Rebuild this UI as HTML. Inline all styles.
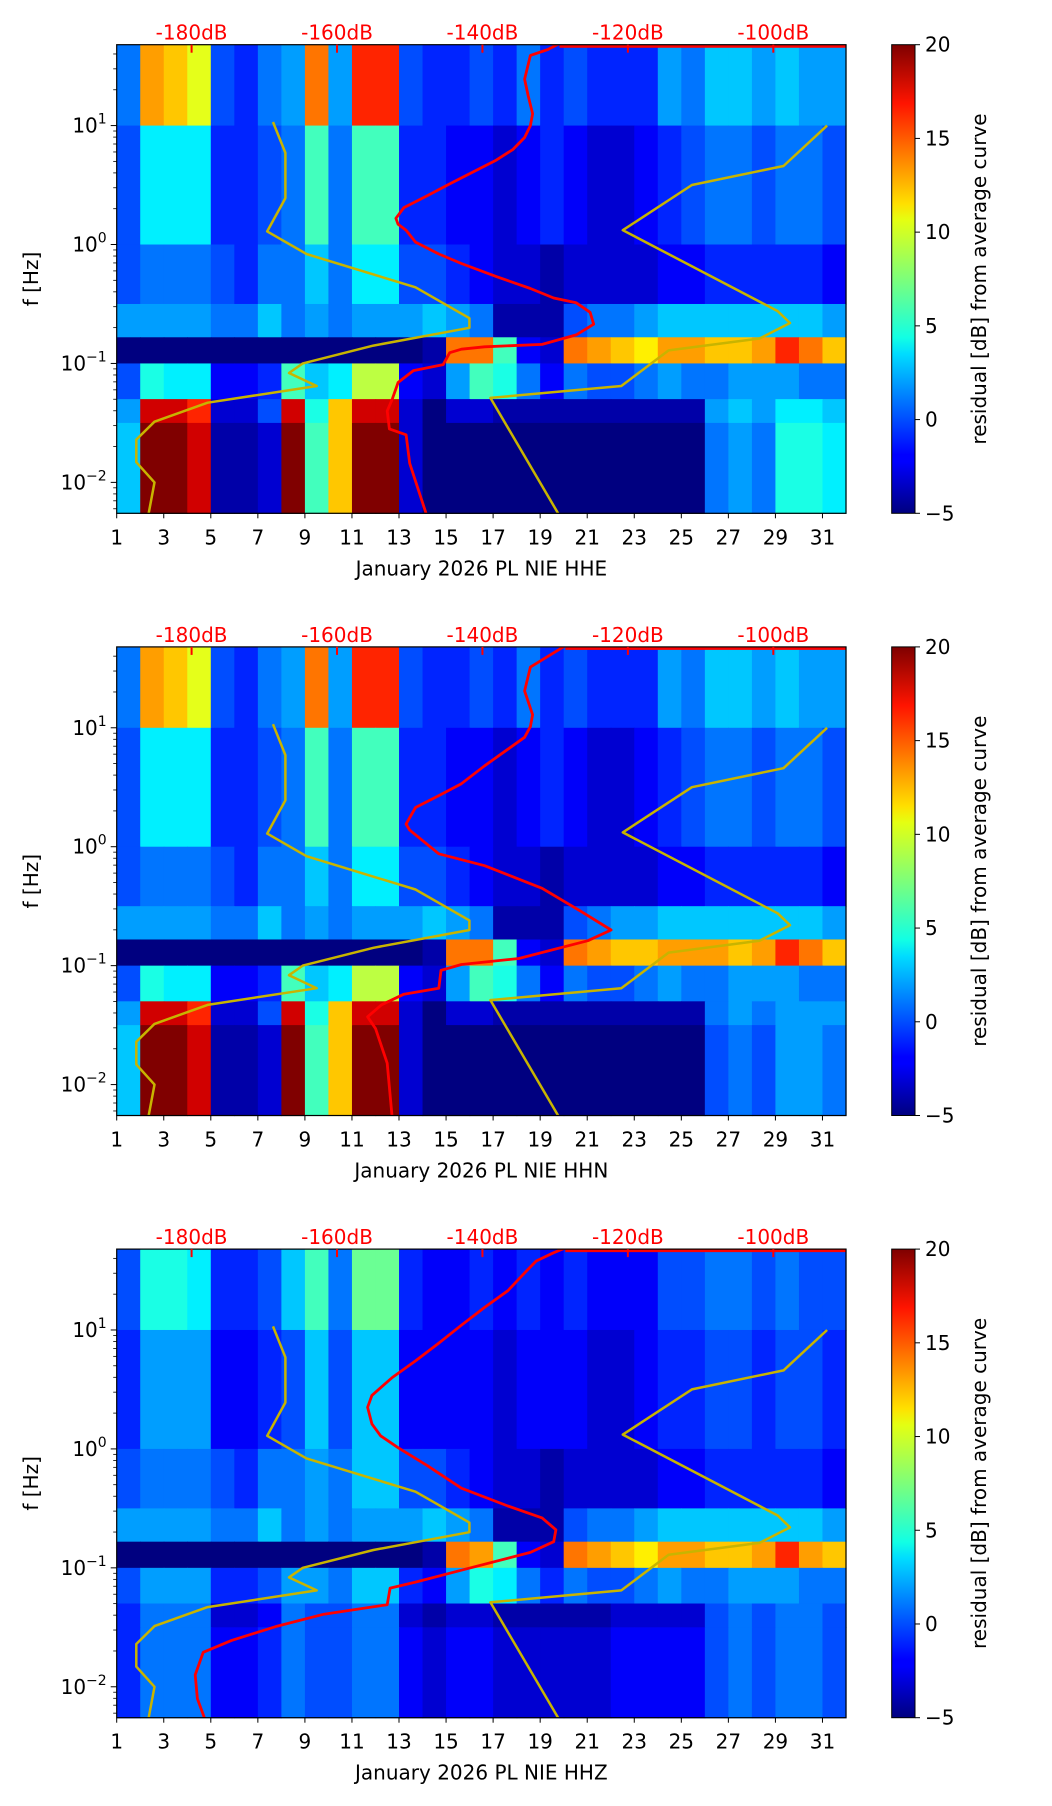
<!DOCTYPE html>
<html><head><meta charset="utf-8"><title>Residual spectrogram PL NIE</title>
<style>
html,body{margin:0;padding:0;background:#fff;}
svg{display:block;font-family:"DejaVu Sans","Liberation Sans",sans-serif;}
</style></head>
<body>
<svg id="fig" width="1052" height="1806" viewBox="0 0 1052 1806" xmlns="http://www.w3.org/2000/svg">
<defs>
<linearGradient id="jetgrad" x1="0" y1="1" x2="0" y2="0">
<stop offset="0" stop-color="#00007f"/><stop offset="0.11" stop-color="#0000ff"/>
<stop offset="0.125" stop-color="#0000ff"/><stop offset="0.34" stop-color="#00dcff"/>
<stop offset="0.375" stop-color="#12ffe4"/><stop offset="0.5" stop-color="#7dff7a"/>
<stop offset="0.625" stop-color="#e4ff12"/><stop offset="0.66" stop-color="#ffe000"/>
<stop offset="0.875" stop-color="#ff1400"/><stop offset="1" stop-color="#7f0000"/>
</linearGradient>
</defs>
</svg>
<script>
// ---------- data ----------
const days = Array.from({length:31},(_,i)=>i+1);
const bandTopLog = [1.68, 1.0, 0.0, -0.5, -0.78, -1.0, -1.3, -1.5];
const bandBotLog = [1.0, 0.0, -0.5, -0.78, -1.0, -1.3, -1.5, -2.26];
// HHE
const hheB0 = [1,13,12,10,0,-1,1,2,14,2,16,16,0,-1,-1,0,-1,1,-1,0,-1,-1,-1,2,1,3,3,2,3,2,2];
const hheB1 = [0,4,4,4,-1,-1,0,1,6,1,6,6,-1,-1,-2,-2,-3,-2,-1,-2,-3,-3,-2,-1,0,1,1,0,1,1,0];
const hheB2 = [0,1,1,1,0,-1,1,1,3,1,4,4,0,0,-1,-2,-3,-3,-4,-3,-3,-3,-3,-2,-2,-1,-1,-1,-1,-1,-2];
const hheB3 = [2,2,2,2,1,1,3,1,2,1,2,2,2,3,2,1,-4,-4,-4,0,1,1,2,3,3,3,3,3,3,3,2];
const hheB4 = [-5,-5,-5,-5,-5,-5,-5,-5,-5,-5,-5,-5,-5,-4,14,14,6,-2,-3,14,13,12,11,13,13,12,12,13,16,14,12];
const hheB5 = [0,5,4,4,-2,-2,-1,6,3,4,9,9,-2,-3,2,6,5,1,-2,1,0,0,1,2,1,1,2,2,2,1,1];
const hheB6 = [2,18,18,16,-3,-3,0,18,5,12,18,18,-3,-5,-3,-3,-4,-4,-4,-4,-4,-4,-4,-4,-4,2,3,2,4,4,3];
const hheB7 = [3,20,20,18,-4,-4,-3,20,6,12,20,20,-3,-5,-5,-5,-5,-5,-5,-5,-5,-5,-5,-5,-5,1,2,1,5,5,4];
// HHN
const hhnB0 = [1,13,12,10,0,-1,1,2,14,2,16,16,0,-1,-1,0,-1,1,-1,0,-1,-1,-1,2,1,3,3,2,3,2,2];
const hhnB1 = [0,4,4,4,-1,-1,0,1,6,1,6,6,-1,-1,-2,-2,-3,-2,-1,-2,-3,-3,-2,-1,0,1,1,0,1,1,0];
const hhnB2 = [0,1,1,1,0,-1,1,1,3,1,4,4,0,0,-1,-2,-3,-3,-4,-3,-3,-3,-3,-2,-2,-1,-1,-1,-1,-1,-2];
const hhnB3 = [2,2,2,2,1,1,3,1,2,1,2,2,2,3,2,1,-4,-4,-4,0,1,2,2,3,3,3,3,3,3,3,2];
const hhnB4 = [-5,-5,-5,-5,-5,-5,-5,-5,-5,-5,-5,-5,-5,-4,14,14,6,-2,-3,14,13,12,12,13,13,13,12,13,16,14,12];
const hhnB5 = [0,5,4,4,-2,-2,-1,6,3,4,9,9,-2,-3,2,6,5,1,-2,1,0,0,1,2,1,1,2,2,2,1,1];
const hhnB6 = [2,18,18,16,-3,-3,0,18,5,12,18,18,-3,-5,-3,-3,-4,-4,-4,-4,-4,-4,-4,-4,-4,1,2,1,2,2,2];
const hhnB7 = [3,20,20,18,-4,-4,-3,20,6,12,20,20,-3,-5,-5,-5,-5,-5,-5,-5,-5,-5,-5,-5,-5,0,1,0,2,2,1];
// HHZ
const hhzB0 = [0,5,5,4,-1,-1,0,3,6,1,7,7,-1,-2,-2,-1,-2,-1,-2,-1,-2,-2,-2,0,0,1,1,0,1,0,0];
const hhzB1 = [-1,2,2,2,-2,-2,-1,0,3,0,3,3,-2,-2,-2,-2,-3,-2,-2,-2,-3,-3,-2,-1,-1,0,0,-1,0,0,-1];
const hhzB2 = [0,1,1,1,0,-1,1,1,2,1,3,3,0,0,-1,-2,-3,-3,-4,-3,-3,-3,-3,-2,-2,-1,-1,-1,-1,-1,-2];
const hhzB3 = [2,2,2,2,1,1,3,1,2,1,2,2,2,3,2,1,-4,-4,-4,0,1,1,2,3,3,3,3,3,3,3,2];
const hhzB4 = [-5,-5,-5,-5,-5,-5,-5,-5,-5,-5,-5,-5,-5,-4,14,13,6,-2,-3,14,13,12,11,13,13,12,12,13,16,13,12];
const hhzB5 = [0,2,2,2,-1,-1,0,2,2,1,3,3,-1,-2,2,5,4,1,-1,1,0,0,1,2,1,1,2,2,2,1,1];
const hhzB6 = [-1,1,1,1,-3,-3,-2,1,0,0,1,1,-3,-4,-3,-3,-4,-4,-4,-4,-4,-3,-3,-3,-3,0,1,0,1,1,0];
const hhzB7 = [-1,1,1,1,-2,-2,-1,1,0,0,1,1,-2,-3,-2,-2,-3,-3,-3,-3,-3,-2,-2,-2,-2,0,1,0,1,1,0];

// PSD average curves (log10 f, dB)
const hheRedLogF = [-2.29,-1.84,-1.6,-1.55,-1.4,-1.3,-1.16,-1.06,-1.01,-0.91,-0.88,-0.86,-0.84,-0.76,-0.67,-0.57,-0.49,-0.45,-0.37,-0.27,-0.16,-0.08,0.02,0.12,0.17,0.22,0.31,0.41,0.51,0.61,0.71,0.8,0.9,1.0,1.1,1.25,1.39,1.59,1.64,1.69];
const hheRedDb = [-147.6,-150,-150.5,-152.8,-153.1,-152.4,-151.6,-149.5,-145.4,-144.5,-142.9,-139.7,-131.8,-127.1,-124.7,-125.2,-127.1,-130.2,-133.4,-138.1,-142.9,-146,-149.2,-150.5,-151.6,-151.9,-150.8,-147.6,-144.5,-141.3,-138.1,-135.8,-134.2,-133.4,-133.1,-133.7,-134.2,-133.4,-131,-129.4];
const hhnRedLogF = [-2.29,-1.82,-1.53,-1.43,-1.33,-1.24,-1.19,-1.04,-0.99,-0.94,-0.79,-0.7,-0.55,-0.35,-0.16,-0.06,0.14,0.19,0.33,0.43,0.53,0.68,0.82,0.92,1.01,1.11,1.31,1.51,1.63,1.69];
const hhnRedDb = [-152.4,-153.1,-154.7,-155.8,-153.9,-150.8,-146,-145.7,-142.9,-135,-125.5,-122.3,-126.3,-131.8,-139.7,-146,-150,-150.5,-149.2,-146,-142.9,-139.7,-136.5,-134.2,-133.4,-133.1,-134.2,-133.4,-130.2,-128.6];
const hhzRedLogF = [-2.3,-2.1,-1.9,-1.71,-1.61,-1.49,-1.39,-1.31,-1.17,-1.12,-1.02,-0.87,-0.78,-0.68,-0.58,-0.48,-0.33,-0.14,0.01,0.11,0.21,0.35,0.45,0.6,0.74,0.89,1.04,1.19,1.33,1.48,1.58,1.65,1.69];
const hhzRedDb = [-178,-179.2,-179.5,-178.4,-174.5,-168.2,-161.8,-153.1,-152.7,-149.2,-142.9,-133.4,-130.2,-129.9,-131.8,-136.5,-142.9,-147.6,-151.6,-154,-155.2,-155.8,-155.2,-152.4,-149.2,-146,-142.9,-139.7,-136.5,-134.2,-132.6,-130.2,-128.6];
// noise models
const nlnmLogF = [-2.29,-2.0,-1.83,-1.64,-1.49,-1.33,-1.19,-1.08,-1.0,-0.85,-0.7,-0.62,-0.36,-0.08,0.11,0.39,0.77,1.03];
const nlnmDb = [-186,-185.1,-187.6,-187.6,-185.1,-177.8,-162.8,-166.6,-164.7,-155,-141.8,-141.8,-149.2,-164.2,-169.6,-167.1,-167.1,-168.8];
const nhnmLogF = [-2.29,-1.29,-1.19,-0.89,-0.79,-0.66,-0.56,0.12,0.5,0.66,1.0];
const nhnmDb = [-129.3,-138.9,-120.9,-114.4,-101.9,-97.7,-99.4,-120.7,-111.2,-98.6,-92.6];
const xTickDays = [1,3,5,7,9,11,13,15,17,19,21,23,25,27,29,31];
const dbTicks = [-180,-160,-140,-120,-100];
const yTickExp = [1,0,-1,-2];
const cbTicks = [20,15,10,5,0,-5];

const panels = [
 {id:'hhe', comp:'HHE', bands:[hheB0,hheB1,hheB2,hheB3,hheB4,hheB5,hheB6,hheB7], rf:hheRedLogF, rd:hheRedDb},
 {id:'hhn', comp:'HHN', bands:[hhnB0,hhnB1,hhnB2,hhnB3,hhnB4,hhnB5,hhnB6,hhnB7], rf:hhnRedLogF, rd:hhnRedDb},
 {id:'hhz', comp:'HHZ', bands:[hhzB0,hhzB1,hhzB2,hhzB3,hhzB4,hhzB5,hhzB6,hhzB7], rf:hhzRedLogF, rd:hhzRedDb}
];

// ---------- layout ----------
const NS='http://www.w3.org/2000/svg';
const svg=document.getElementById('fig');
const L=116.7, R=846, H=468.6, tops=[44.7,646.9,1249.1];
const LOGTOP=1.68, LOGBOT=-2.26, DBMIN=-190.3, DBMAX=-90;
const CBL=891.7, CBR=915;
const FS=20;
function mk(tag,attrs,parent){const e=document.createElementNS(NS,tag);for(const k in attrs)e.setAttribute(k,attrs[k]);(parent||svg).appendChild(e);return e;}
function jet(v){let t=(v+5)/25;t=Math.max(0,Math.min(1,t));
 const c=x=>Math.round(255*Math.max(0,Math.min(1,x)));
 return 'rgb('+c(1.5-Math.abs(4*t-3))+','+c(1.5-Math.abs(4*t-2))+','+c(1.5-Math.abs(4*t-1))+')';}

panels.forEach((p,pi)=>{
 const top=tops[pi], bot=top+H;
 const xDay=d=>L+(d-1)/31*(R-L);
 const yLog=lf=>top+(LOGTOP-lf)/(LOGTOP-LOGBOT)*H;
 const xDb=db=>L+(db-DBMIN)/(DBMAX-DBMIN)*(R-L);
 const g=mk('g',{});
 
 
 const hm=mk('g',{},g);
 
 
 p.bands.forEach((vals,bi)=>{
  const y0=yLog(bandTopLog[bi]), y1=yLog(bandBotLog[bi]);
  vals.forEach((v,di)=>{
   const r=mk('rect',{x:xDay(days[di]).toFixed(2),y:y0.toFixed(2),width:((R-L)/31+0.6).toFixed(2),height:(y1-y0+0.6).toFixed(2),fill:jet(v)},hm);
   
   
  });
 });
 const clip='clip'+pi;
 const cp=mk('clipPath',{id:clip},g); mk('rect',{x:L,y:top,width:R-L,height:H},cp);
 const tl=mk('line',{x1:xDb(p.rd[p.rd.length-1]),y1:top+1.5,x2:R,y2:top+1.5,stroke:'#ff0000','stroke-width':3},g);
 
 
 function poly(fs,dbs,color,w,name){
  const pts=fs.map((f,i)=>xDb(dbs[i]).toFixed(1)+','+yLog(f).toFixed(1)).join(' ');
  const pl=mk('polyline',{points:pts,fill:'none',stroke:color,'stroke-width':w,'stroke-linejoin':'round','clip-path':'url(#'+clip+')'},g);
  
  
 }
 poly(nlnmLogF,nlnmDb,'#c8b400',2.5,'nlnm-curve');
 poly(nhnmLogF,nhnmDb,'#c8b400',2.5,'nhnm-curve');
 poly(p.rf,p.rd,'#ff0000',2.8,'average-psd-curve');
 const fr=mk('rect',{x:L,y:top,width:R-L,height:H,fill:'none',stroke:'#000','stroke-width':1.2},g);
 
 
 xTickDays.forEach(d=>{
  const x=xDay(d);
  mk('line',{x1:x,y1:bot,x2:x,y2:bot+5,stroke:'#000','stroke-width':1},g);
  const t=mk('text',{x:x,y:bot+31,'font-size':FS,'text-anchor':'middle',fill:'#000'},g);
  t.textContent=d;
  
  
 });
 const xl=mk('text',{x:(L+R)/2,y:bot+62,'font-size':FS,'text-anchor':'middle',fill:'#000'},g);
 xl.textContent='January 2026 PL NIE  '+p.comp;
 
 
 dbTicks.forEach(db=>{
  const x=xDb(db);
  mk('line',{x1:x,y1:top,x2:x,y2:top+8,stroke:'#ff0000','stroke-width':2},g);
  const t=mk('text',{x:x,y:top-5,'font-size':FS,'text-anchor':'middle',fill:'#ff0000'},g);
  t.textContent=db+'dB';
  
  
 });
 yTickExp.forEach(e=>{
  const y=yLog(e);
  mk('line',{x1:L-6,y1:y,x2:L,y2:y,stroke:'#000','stroke-width':1},g);
  const t=mk('text',{x:L-10,y:y+7,'font-size':FS,'text-anchor':'end',fill:'#000'},g);
  t.innerHTML='10<tspan dy="-9" font-size="14">'+(e<0?'\u2212'+(-e):e)+'</tspan>';
  
  
 });
 for(let e=-3;e<=1;e++){for(let m=2;m<=9;m++){const lf=e+Math.log10(m);
  if(lf<LOGBOT||lf>LOGTOP)continue;const y=yLog(lf);
  mk('line',{x1:L-3.5,y1:y,x2:L,y2:y,stroke:'#000','stroke-width':0.8},g);}}
 const yl=mk('text',{x:0,y:0,'font-size':FS,'text-anchor':'middle',fill:'#000',transform:'translate(38,'+(top+H/2)+') rotate(-90)'},g);
 yl.textContent='f [Hz]';
 
 
 const cb=mk('rect',{x:CBL,y:top,width:CBR-CBL,height:H,fill:'url(#jetgrad)',stroke:'#000','stroke-width':1},g);
 
 
 cbTicks.forEach(v=>{
  const y=top+(20-v)/25*H;
  mk('line',{x1:CBR,y1:y,x2:CBR+5,y2:y,stroke:'#000','stroke-width':1},g);
  const t=mk('text',{x:CBR+10,y:y+7,'font-size':FS,fill:'#000'},g);
  t.textContent=v<0?'\u2212'+(-v):v;
  
  
 });
 const cl=mk('text',{x:0,y:0,'font-size':FS,'text-anchor':'middle',fill:'#000',transform:'translate(986,'+(top+H/2)+') rotate(-90)'},g);
 cl.textContent='residual [dB] from average curve';
 
 
});
</script>
</body></html>
